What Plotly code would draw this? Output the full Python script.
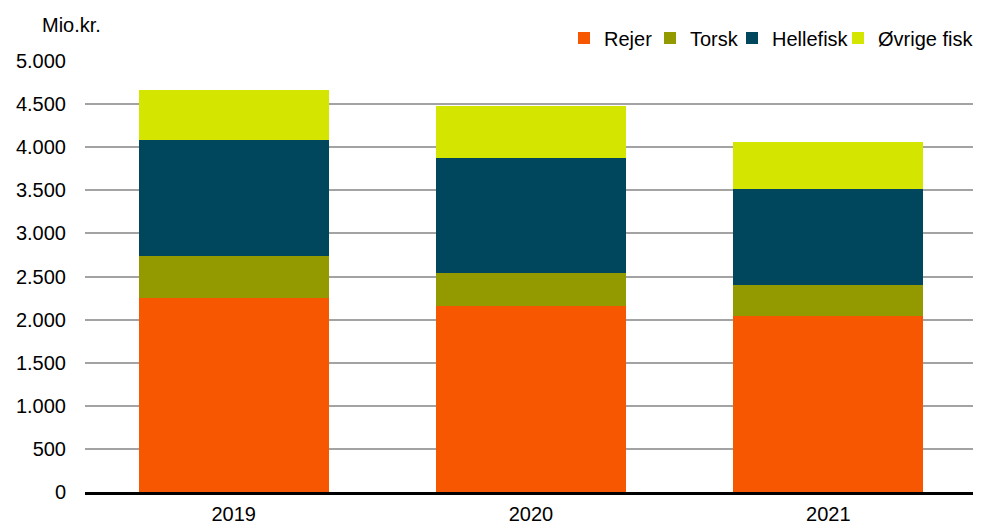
import plotly.graph_objects as go

years = ["2019", "2020", "2021"]
rejer = [2253, 2153, 2045]
torsk = [482, 393, 351]
hellefisk = [1351, 1331, 1114]
ovrige = [575, 602, 552]

series = [
    ("Rejer", rejer, "#F75700"),
    ("Torsk", torsk, "#929A00"),
    ("Hellefisk", hellefisk, "#00465C"),
    ("Øvrige fisk", ovrige, "#D4E500"),
]
# left edge (figure px) of each legend entry
legend_left = [556, 642, 724, 830]

W, H = 973, 517
L, R, T, B = 77, 4, 53, 33

fig = go.Figure()
legend_ids = ["legend", "legend2", "legend3", "legend4"]
for (name, vals, col), lid in zip(series, legend_ids):
    fig.add_trace(go.Bar(x=years, y=vals, name=name, legend=lid, showlegend=True,
                         marker=dict(color=col, line=dict(width=0))))

fig.update_layout(
    barmode="stack",
    bargap=0.36,
    width=W, height=H,
    showlegend=True,
    margin=dict(l=L, r=R, t=T, b=B, autoexpand=False),
    plot_bgcolor="white", paper_bgcolor="white",
    separators=",.",
    font=dict(family="Liberation Sans, Arial, sans-serif", size=20, color="#000000"),
)
for lid, lx in zip(legend_ids, legend_left):
    fig.update_layout({lid: dict(orientation="h", xref="container", yref="container",
                                 x=lx / W, xanchor="left", y=1 - 30 / H, yanchor="middle",
                                 font=dict(size=20), itemwidth=30, visible=True,
                                 bgcolor="rgba(0,0,0,0)")})

fig.layout.annotations = [dict(text="Mio.kr.", xref="paper", yref="paper",
                               x=(32 - L) / (W - L - R), y=(H - B - 17) / (H - T - B),
                               xanchor="left", yanchor="middle",
                               showarrow=False, font=dict(size=20))]
fig.update_yaxes(range=[0, 5000], dtick=500, tickformat=",d", automargin=False,
                 showgrid=True, gridcolor="#A3A3A3", gridwidth=1.6,
                 zeroline=False, showline=False, ticks="", ticklabelstandoff=18)
fig.update_xaxes(showline=True, linecolor="#000000", linewidth=2.5, automargin=False,
                 ticks="", showgrid=False, ticklabelstandoff=2)

fig.write_html("out.html")
